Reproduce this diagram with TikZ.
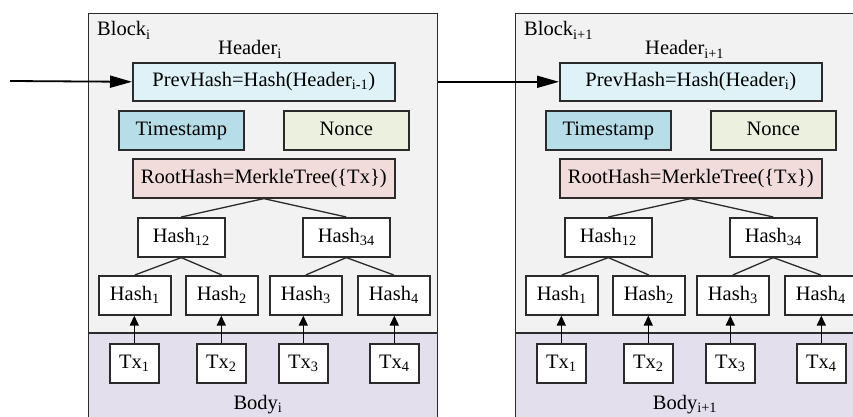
\documentclass[tikz,border=0pt]{standalone}
\usepackage{fontspec}
\setmainfont{Liberation Serif}
\usetikzlibrary{arrows.meta}
\definecolor{blockbg}{HTML}{F2F2F2}
\definecolor{bodybg}{HTML}{E4DFEC}
\definecolor{prevc}{HTML}{DEF2F8}
\definecolor{timec}{HTML}{B7DDE8}
\definecolor{noncec}{HTML}{EBF1DE}
\definecolor{rootc}{HTML}{F2DCDB}
\definecolor{edge}{HTML}{2B2B2B}
\newcommand\lo[1]{\textsubscript{#1}}
\tikzset{
  lbl/.style={font=\fontsize{20.5}{24}\selectfont, inner sep=0pt},
  box/.style={lbl, draw=edge, line width=1.6pt, anchor=north west, align=center, text height=14pt, text depth=4pt},
  hbox/.style={box, fill=white, minimum width=72pt, minimum height=39pt},
  txbox/.style={box, fill=white, minimum width=49pt, minimum height=39pt},
  arr/.style={line width=1.8pt, arrows={-Triangle[length=22pt, width=12pt]}},
  sarr/.style={line width=1.5pt, arrows={-Triangle[length=10pt, width=9pt]}},
  tree/.style={line width=1.3pt, draw=edge},
}
% #1 shift, #2 prefix, #3 block sub, #4 prev sub
\newcommand\chainblock[4]{%
\begin{scope}[xshift=#1pt]
  \fill[blockbg] (88,13) rectangle (437,333);
  \fill[bodybg] (88,333) rectangle (437,440);
  \draw[edge, line width=1.6pt] (88,333) -- (437,333);
  \node[draw=edge, line width=1.4pt, inner sep=0pt, minimum width=349pt, minimum height=427pt, anchor=north west] (#2blk) at (88,13) {};
  \node[lbl, anchor=base west] (#2blklbl) at (97,36) {Block\lo{#3}};
  \node[lbl, anchor=base west] (#2hdr) at (218,55) {Header\lo{#3}};
  \node[lbl, anchor=base] (#2body) at (258,409) {Body\lo{#3}};
  \node[box, fill=prevc, minimum width=262pt, minimum height=38pt] (#2prev) at (132,62) {PrevHash=Hash(Header\lo{#4})};
  \node[box, fill=timec, minimum width=125pt, minimum height=39pt] (#2time) at (118,110) {Timestamp};
  \node[box, fill=noncec, minimum width=125pt, minimum height=39pt] (#2nonce) at (283,110) {Nonce};
  \node[box, fill=rootc, minimum width=262pt, minimum height=39pt] (#2root) at (132,158) {RootHash=MerkleTree(\{Tx\})};
  \node[hbox, minimum width=87pt] (#2h12) at (137,217) {Hash\lo{12}};
  \node[hbox, minimum width=87pt] (#2h34) at (302,217) {Hash\lo{34}};
  \node[hbox] (#2h1) at (98,275) {Hash\lo{1}};
  \node[hbox] (#2h2) at (185,275) {Hash\lo{2}};
  \node[hbox] (#2h3) at (269,275) {Hash\lo{3}};
  \node[hbox] (#2h4) at (357,275) {Hash\lo{4}};
  \node[txbox] (#2t1) at (109,343) {Tx\lo{1}};
  \node[txbox] (#2t2) at (196,343) {Tx\lo{2}};
  \node[txbox] (#2t3) at (278,343) {Tx\lo{3}};
  \node[txbox] (#2t4) at (369,343) {Tx\lo{4}};
  \draw[tree] (#2root.south) -- (#2h12.north);
  \draw[tree] (#2root.south) -- (#2h34.north);
  \draw[tree] (#2h12.south) -- (#2h1.north);
  \draw[tree] (#2h12.south) -- (#2h2.north);
  \draw[tree] (#2h34.south) -- (#2h3.north);
  \draw[tree] (#2h34.south) -- (#2h4.north);
  \foreach \k in {1,2,3,4}{
    \draw[sarr] (#2t\k.north) -- (#2t\k.north |- #2h\k.south);
  }
\end{scope}}
\begin{document}
\begin{tikzpicture}[x=1pt, y=-1pt]
  \useasboundingbox (0,0) rectangle (853,417);
  \clip (0,0) rectangle (853,417);
  \chainblock{0}{a}{i}{i-1}
  \chainblock{427}{b}{i+1}{i}
  \coordinate (in) at (10,81);
  \draw[arr] (in) -- (aprev.west);
  \draw[arr] (ablk.east |- bprev.west) -- (bprev.west);
\end{tikzpicture}
\end{document}
